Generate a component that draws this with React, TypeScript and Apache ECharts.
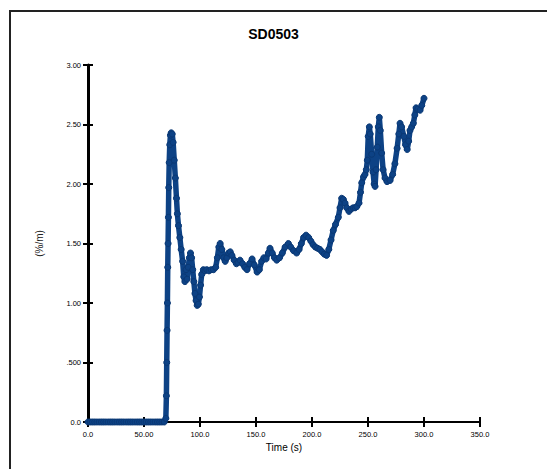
import React, { useEffect, useRef } from "react";
import * as echarts from "echarts";

const titleText = "SD0503";
const xAxisName = "Time (s)";
const yAxisName = "(%/m)";
const xTickLabels = ["0.0", "50.00", "100.0", "150.0", "200.0", "250.0", "300.0", "350.0"];
const yTickLabels = ["0.0", ".500", "1.00", "1.50", "2.00", "2.50", "3.00"];

const timeS = [
  0, 2, 4, 6, 8, 10, 12, 14, 16, 18, 20, 22, 24, 26, 28, 30, 32, 34, 36, 38, 40, 42, 44, 46, 48, 50,
  52, 54, 56, 58, 60, 62, 64, 66, 68, 69.5, 70.0, 70.3, 70.6, 70.9, 71.2, 71.5, 71.8, 72.1, 72.5,
  73.0, 73.6, 74.3, 75.2, 76.0, 77.0, 78.0, 79.0, 79.8, 80.8, 82.0, 83.2, 84.5, 85.5, 86.5, 87.5,
  88.5, 89.5, 90.5, 91.5, 92.5, 93.5, 94.5, 95.5, 96.5, 97.5, 98.5, 99.5, 100.5, 101.5, 103, 104.5,
  106, 108, 110, 112, 114, 115.5, 116.8, 118, 119.5, 121, 122.5, 124, 125.5, 127, 128.5, 130.5,
  132.5, 134, 135.7, 138, 140, 142, 144.2, 146.5, 148.5, 151, 153, 155, 157, 159, 161, 162.5, 164.5,
  166.5, 168.5, 171, 173.5, 176, 178.9, 181, 183.5, 186.3, 188.5, 190.5, 192.5, 194.7, 197, 199,
  201, 203, 205, 207, 209, 211, 213, 215, 217, 219, 221, 223.5, 225, 226.5, 228, 229.5, 231, 233,
  235, 236.8, 238.5, 240, 242, 243.3, 244.4, 246, 247.3, 248.5, 249.4, 250.2, 251.2, 252, 253.3,
  254.5, 255.5, 256.3, 257.2, 258.3, 259.2, 260.1, 261, 262.2, 263.5, 265.2, 267, 269.7, 272, 274,
  276, 277.5, 278.6, 280, 282, 283.5, 285, 286.3, 287.5, 289, 290.5, 291.8, 292.9, 294.5, 296.5,
  298, 300,
];

const strainRate = [
  0, 0, 0, 0, 0, 0, 0, 0, 0, 0, 0, 0, 0, 0, 0, 0, 0, 0, 0, 0, 0, 0, 0, 0, 0, 0,
  0, 0, 0, 0, 0, 0, 0, 0, 0, 0.03, 0.22, 0.5, 0.77, 1.0, 1.3, 1.5, 1.72, 1.97, 2.18,
  2.33, 2.41, 2.43, 2.42, 2.35, 2.2, 2.05, 1.88, 1.75, 1.65, 1.55, 1.45, 1.35, 1.22, 1.18, 1.28,
  1.2, 1.3, 1.38, 1.42, 1.38, 1.28, 1.18, 1.08, 1.02, 0.98, 0.99, 1.05, 1.15, 1.24, 1.28, 1.27,
  1.28, 1.27, 1.28, 1.28, 1.3, 1.38, 1.47, 1.5, 1.45, 1.38, 1.35, 1.38, 1.42, 1.43, 1.4, 1.36,
  1.33, 1.34, 1.36, 1.33, 1.3, 1.28, 1.33, 1.37, 1.32, 1.26, 1.28, 1.35, 1.38, 1.37, 1.42, 1.46, 1.42,
  1.38, 1.36, 1.38, 1.42, 1.47, 1.5, 1.47, 1.44, 1.42, 1.45, 1.5, 1.55, 1.57, 1.55, 1.52,
  1.49, 1.47, 1.46, 1.45, 1.43, 1.41, 1.4, 1.45, 1.53, 1.61, 1.66, 1.72, 1.8, 1.88, 1.87, 1.84, 1.8, 1.77,
  1.79, 1.8, 1.8, 1.81, 1.84, 1.93, 2.01, 2.06, 2.08, 2.12, 2.2, 2.4, 2.48, 2.42, 2.25,
  2.1, 2.0, 1.98, 2.12, 2.31, 2.48, 2.56, 2.45, 2.26, 2.12, 2.05, 2.02, 2.03, 2.08, 2.17,
  2.3, 2.42, 2.51, 2.48, 2.4, 2.33, 2.29, 2.36, 2.45, 2.48, 2.51, 2.58, 2.64, 2.63, 2.62,
  2.66, 2.72,
];

const lineColor = "#0d4285";
const font = "'Liberation Sans', Arial, sans-serif";

export default function App() {
  const ref = useRef<HTMLDivElement>(null);
  useEffect(() => {
    if (!ref.current) return;
    const chart = echarts.init(ref.current, undefined, { renderer: "svg" });
    const data = timeS.map((t, i) => [t, strainRate[i]]);
    const xBase = { type: "value", min: 0, max: 350, interval: 50, splitLine: { show: false } };
    const yBase = { type: "value", min: 0, max: 3, interval: 0.5, splitLine: { show: false } };
    chart.setOption({
      animation: false,
      backgroundColor: "#ffffff",
      title: {
        text: titleText,
        left: "center",
        top: 22,
        textStyle: { fontFamily: font, fontSize: 14, fontWeight: "bold", color: "#000" },
      },
      grid: { left: 88, top: 65, width: 392, height: 357 },
      xAxis: [
        {
          ...xBase,
          name: xAxisName,
          nameLocation: "middle",
          nameGap: 18,
          nameTextStyle: { fontFamily: font, fontSize: 10, color: "#000" },
          axisLine: { show: true, lineStyle: { color: "#000", width: 2 } },
          axisTick: { show: true, length: 5, lineStyle: { color: "#000", width: 2 } },
          axisLabel: {
            margin: 8,
            fontFamily: font,
            fontSize: 7.5,
            color: "#000",
            formatter: (_v: number, i: number) => xTickLabels[i] ?? "",
          },
        },
        {
          ...xBase,
          position: "bottom",
          axisLine: { show: false },
          axisTick: { show: true, inside: true, length: 5, lineStyle: { color: "#000", width: 2 } },
          axisLabel: { show: false },
        },
      ],
      yAxis: [
        {
          ...yBase,
          name: yAxisName,
          nameLocation: "middle",
          nameGap: 44,
          nameRotate: 90,
          nameTextStyle: { fontFamily: font, fontSize: 10, color: "#222" },
          axisLine: { show: true, lineStyle: { color: "#000", width: 3 } },
          axisTick: { show: true, length: 5, lineStyle: { color: "#000", width: 2 } },
          axisLabel: {
            margin: 7,
            fontFamily: font,
            fontSize: 7.5,
            color: "#000",
            formatter: (_v: number, i: number) => yTickLabels[i] ?? "",
          },
        },
        {
          ...yBase,
          position: "left",
          axisLine: { show: false },
          axisTick: { show: true, inside: true, length: 5, lineStyle: { color: "#000", width: 2 } },
          axisLabel: { show: false },
        },
      ],
      graphic: [
        {
          type: "polyline",
          shape: { points: [[10, 469], [10, 11], [547, 11]] },
          style: { stroke: "#222", lineWidth: 2, fill: null },
          silent: true,
        },
      ],
      series: [
        {
          type: "line",
          xAxisIndex: 0,
          yAxisIndex: 0,
          data,
          clip: false,
          symbol: "circle",
          symbolSize: 6,
          showAllSymbol: true,
          lineStyle: { color: lineColor, width: 5.5 },
          itemStyle: { color: lineColor, borderColor: "#0a3874", borderWidth: 1 },
          z: 5,
        },
      ],
    });
    return () => chart.dispose();
  }, []);
  return (
    <div
      ref={ref}
      style={{ position: "fixed", left: 0, top: 0, width: 547, height: 469, background: "#fff" }}
    />
  );
}
